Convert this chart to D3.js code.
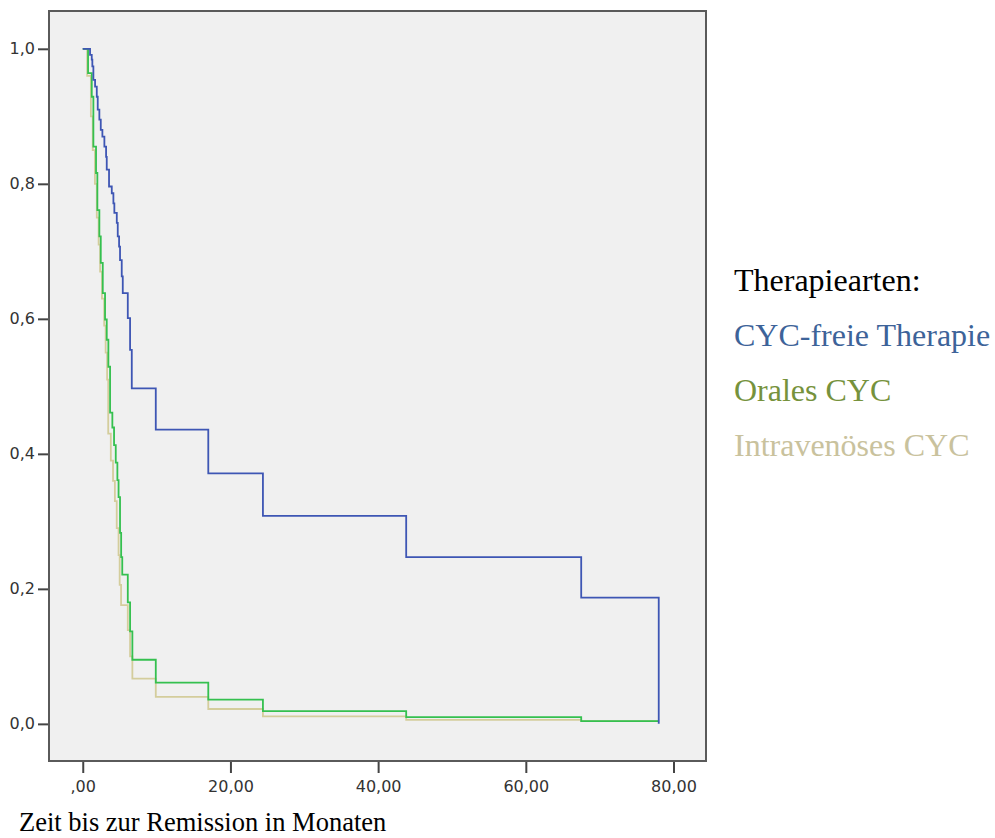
<!DOCTYPE html>
<meta charset="utf-8">
<script src="https://d3js.org/d3.v7.min.js"></script>
<div id="chart"></div>
<script>

// Kaplan-Meier Stufen (Zeit in Monaten, Anteil ohne Remission)
var cycFreiTime = [0, 0.99, 1.22, 1.3, 1.44, 1.67, 1.9, 2.03, 2.25, 2.44, 2.66, 2.93, 3.16, 3.25, 3.56, 3.93, 4.15, 4.28, 4.61, 4.74, 4.92, 5.05, 5.28, 5.42, 6.1, 6.41, 6.64, 9.89, 17.0, 24.4, 43.8, 67.5, 78.0];
var cycFreiSurv = [1.0, 0.991, 0.984, 0.974, 0.954, 0.944, 0.929, 0.91, 0.895, 0.88, 0.87, 0.855, 0.84, 0.821, 0.796, 0.786, 0.771, 0.757, 0.742, 0.722, 0.707, 0.687, 0.663, 0.638, 0.601, 0.554, 0.497, 0.436, 0.371, 0.308, 0.247, 0.187, 0.0];

var oralTime = [0, 0.72, 1.22, 1.44, 1.8, 1.98, 2.25, 2.44, 2.71, 3.02, 3.25, 3.47, 3.7, 4.01, 4.24, 4.47, 4.69, 4.85, 5.05, 5.2, 5.35, 6.1, 6.41, 6.72, 9.89, 17.0, 24.4, 43.8, 67.5];
var oralSurv = [1.0, 0.964, 0.929, 0.855, 0.816, 0.761, 0.722, 0.683, 0.638, 0.599, 0.569, 0.529, 0.461, 0.439, 0.413, 0.387, 0.361, 0.336, 0.283, 0.247, 0.221, 0.18, 0.137, 0.095, 0.061, 0.036, 0.019, 0.01, 0.004];

var ivTime = [0, 0.6, 1.1, 1.35, 1.65, 1.9, 2.15, 2.35, 2.6, 2.9, 3.1, 3.3, 3.45, 3.8, 4.1, 4.35, 4.6, 4.85, 5.0, 5.19, 6.1, 6.41, 6.72, 9.89, 17.0, 24.4, 43.8, 67.5];
var ivSurv = [1.0, 0.96, 0.9, 0.85, 0.8, 0.75, 0.71, 0.67, 0.63, 0.59, 0.55, 0.51, 0.43, 0.39, 0.36, 0.33, 0.29, 0.25, 0.206, 0.176, 0.139, 0.1, 0.067, 0.04, 0.022, 0.011, 0.006, 0.004];

var endTime = 78.0;

var xTicks = [0, 20, 40, 60, 80];
var yTicks = [0, 0.2, 0.4, 0.6, 0.8, 1.0];

var legendTitle = "Therapiearten:";
var groupNames = ["CYC-freie Therapie", "Orales CYC", "Intravenöses CYC"];
var legendColors = ["#3d6399", "#76923c", "#c9c29d"];
var lineColors = ["#3e56b4", "#35c04f", "#d4cd9c"];

var width = 995, height = 838;
var plotL = 49, plotT = 11, plotR = 706, plotB = 761;

var svg = d3.select("#chart")
	.append("svg")
		.attr("width", width)
		.attr("height", height);

var x = d3.scaleLinear()
		.domain([-4.57, 84.4])
		.range([plotL, plotR]);

var y = d3.scaleLinear()
		.domain([-0.055, 1.056])
		.range([plotB, plotT]);

svg.append("rect")
	.attr("x", plotL)
	.attr("y", plotT)
	.attr("width", plotR - plotL)
	.attr("height", plotB - plotT)
	.attr("fill", "#f0f0f0");

// Achsen
svg.append("g")
	.attr("class", "axis")
	.attr("transform", "translate(0," + plotB + ")")
	.call(d3.axisBottom(x)
		.tickValues(xTicks)
		.tickSize(12)
		.tickPadding(8)
		.tickFormat(function(d) { return d === 0 ? ",00" : d.toFixed(2).replace(".", ","); }));

svg.append("g")
	.attr("class", "axis")
	.attr("transform", "translate(" + plotL + ",0)")
	.call(d3.axisLeft(y)
		.tickValues(yTicks)
		.tickSize(11)
		.tickPadding(3)
		.tickFormat(function(d) { return d.toFixed(1).replace(".", ","); }));

svg.selectAll(".axis .domain").remove();

svg.append("rect")
	.attr("x", plotL)
	.attr("y", plotT)
	.attr("width", plotR - plotL)
	.attr("height", plotB - plotT)
	.attr("fill", "none")
	.attr("stroke", "#5a5a5a")
	.attr("stroke-width", 2);

// Kurven
var line = d3.line()
	.x(function(d) { return x(d[0]); })
	.y(function(d) { return y(d[1]); })
	.curve(d3.curveStepAfter);

function points(times, surv) {
	var pts = times.map(function(t, i) { return [t, surv[i]]; });
	if (times[times.length - 1] < endTime) pts.push([endTime, surv[surv.length - 1]]);
	return pts;
}

var series = [
	{name: groupNames[2], pts: points(ivTime, ivSurv), color: lineColors[2]},
	{name: groupNames[1], pts: points(oralTime, oralSurv), color: lineColors[1]},
	{name: groupNames[0], pts: points(cycFreiTime, cycFreiSurv), color: lineColors[0]}
];

svg.selectAll(".km")
	.data(series)
	.enter().append("path")
		.attr("class", "km")
		.attr("d", function(d) { return line(d.pts); })
		.attr("fill", "none")
		.attr("stroke", function(d) { return d.color; })
		.attr("stroke-width", 1.8);

// Legende
svg.append("text")
	.attr("class", "legend")
	.attr("x", 734)
	.attr("y", 291)
	.attr("fill", "#000")
	.text(legendTitle);

svg.selectAll(".legitem")
	.data(groupNames)
	.enter().append("text")
		.attr("class", "legend")
		.attr("x", 734)
		.attr("y", function(d, i) { return 346 + i * 55; })
		.attr("fill", function(d, i) { return legendColors[i]; })
		.text(function(d) { return d; });

svg.append("text")
	.attr("x", 19)
	.attr("y", 831)
	.attr("class", "xtitle")
	.text("Zeit bis zur Remission in Monaten");

</script>

<style>
body {
	margin: 0;
	background: #fff;
}
.axis text {
	font: 16px "DejaVu Sans", sans-serif;
	fill: #333;
}
.axis line {
	stroke: #444;
	stroke-width: 2;
}
.legend {
	font: 32px "Liberation Serif", serif;
}
.xtitle {
	font: 26.5px "Liberation Serif", serif;
	fill: #000;
}
</style>
